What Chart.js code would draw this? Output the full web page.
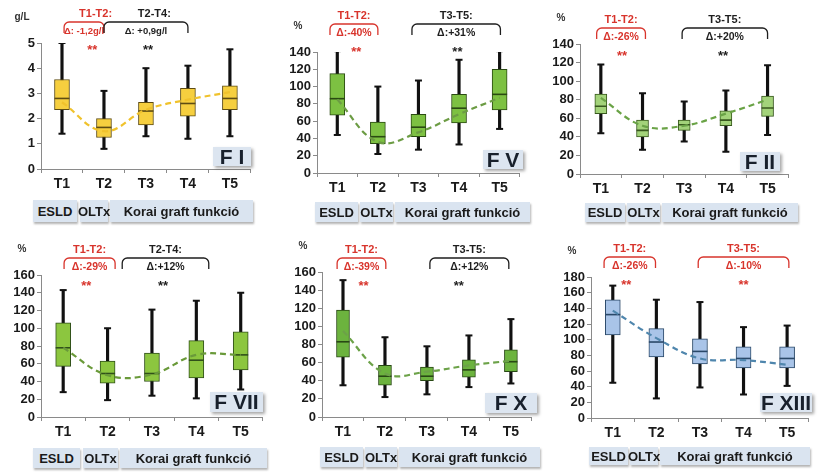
<!DOCTYPE html>
<html>
<head>
<meta charset="utf-8">
<script src="https://cdn.jsdelivr.net/npm/chart.js@4.4.1/dist/chart.umd.min.js"></script>
<style>
body{margin:0;background:#fff;width:818px;height:476px;position:relative;overflow:hidden;font-family:"Liberation Sans",Arial,sans-serif}
canvas{position:absolute}
.tag{position:absolute;background:#dae4f0;box-shadow:1px 2px 2px rgba(0,0,0,.3);font-weight:bold;font-size:13px;color:#1a1a1a;display:flex;align-items:center;justify-content:center;white-space:nowrap}
.fac{position:absolute;background:#dce5f0;box-shadow:2px 2px 3px rgba(0,0,0,.35);font-weight:bold;font-size:21px;color:#18202c;display:flex;align-items:center;justify-content:center;white-space:pre}
</style>
</head>
<body>
<script>
const times = ['T1', 'T2', 'T3', 'T4', 'T5'];

// each row: [min, q1, median, q3, max]
const fI_box = [[1.4, 2.35, 2.8, 3.55, 5.0], [0.8, 1.25, 1.65, 2.0, 3.1], [1.3, 1.75, 2.3, 2.65, 4.0], [1.2, 2.1, 2.6, 3.2, 4.1], [1.3, 2.35, 2.8, 3.3, 4.75]];
const fI_mean = [2.65, 1.5, 2.35, 2.75, 3.05];
const fV_box = [[44, 67, 86, 115, 141], [22, 34, 42, 59, 100], [27, 42, 53, 68, 107], [33, 58, 75, 91, 131], [51, 73, 91, 120, 141]];
const fV_mean = [85, 36, 47, 68, 87];
const fII_box = [[44, 65, 73, 86, 118], [26, 40, 47, 58, 87], [35, 47, 53, 58, 78], [24, 52, 58, 68, 90], [42, 62, 71, 84, 117]];
const fII_mean = [82, 52, 52, 65, 80];
const fVII_box = [[28, 57, 78, 106, 143], [19, 38, 49, 63, 100], [24, 40, 49, 72, 121], [21, 44, 64, 86, 131], [31, 53, 70, 96, 140]];
const fVII_mean = [78, 47, 48, 70, 70];
const fX_box = [[35, 66, 83, 118, 151], [22, 35, 45, 57, 88], [25, 40, 45, 55, 78], [33, 44, 52, 63, 90], [37, 50, 61, 74, 108]];
const fX_mean = [95, 48, 50, 57, 62];
const fXIII_box = [[45, 106, 132, 151, 169], [25, 78, 97, 114, 151], [39, 69, 85, 101, 148], [30, 64, 76, 91, 116], [41, 64, 76, 91, 118]];
const fXIII_mean = [137, 102, 76, 74, 68];

const yMax = [5, 140, 140, 160, 160, 180];
const yStep = [1, 20, 20, 20, 20, 20];

const RED = '#d8342c', BLK = '#1e1e1e';

const panels = [
    { name: 'F I', unit: 'g/L', box: fI_box, mean: fI_mean, fill: '#f6cf3f', edge: '#5e4c12', line: '#f0c22c', bw: 15,
      ax: 41, right: 258, top: 43, bottom: 169, pTop: 0, bTop: 22,
      brackets: [
          { from: 0.05, to: 1.0, color: RED, title: 'T1-T2:', tx: 0.8, delta: 'Δ: -1,2g/l', fs: 9.5, star: 0.72 },
          { from: 1.0, to: 3.0, color: BLK, title: 'T2-T4:', tx: 2.2, delta: 'Δ: +0,9g/l', fs: 9.5, star: 2.05 }
      ],
      tags: [[33, 77], [80, 108], [110, 253]], tagY: [200, 222], fac: [213, 147, 38, 19] },
    { name: 'F V', unit: '%', box: fV_box, mean: fV_mean, fill: '#7dc142', edge: '#2a4a12', line: '#6c9c44', bw: 15,
      ax: 317, right: 527, top: 52, bottom: 173, pTop: 0, bTop: 24,
      brackets: [
          { from: -0.18, to: 1.0, color: RED, title: 'T1-T2:', delta: 'Δ:-40%', star: 0.47 },
          { from: 1.84, to: 4.02, color: BLK, title: 'T3-T5:', delta: 'Δ:+31%', star: 2.96 }
      ],
      tags: [[315, 358], [360, 393], [395, 530]], tagY: [202, 222], fac: [483, 150, 40, 19] },
    { name: 'F II', unit: '%', box: fII_box, mean: fII_mean, fill: '#a3d37a', edge: '#38581e', line: '#6aa346', bw: 12,
      ax: 580, right: 794, top: 44, bottom: 174, pTop: 0, bTop: 28,
      brackets: [
          { from: -0.1, to: 1.07, color: RED, title: 'T1-T2:', delta: 'Δ:-26%', star: 0.51 },
          { from: 1.95, to: 4.0, color: BLK, title: 'T3-T5:', delta: 'Δ:+20%', star: 2.93 }
      ],
      tags: [[585, 625], [627, 660], [662, 798]], tagY: [203, 222], fac: [740, 152, 40, 19] },
    { name: 'F VII', unit: '%', box: fVII_box, mean: fVII_mean, fill: '#8cc63f', edge: '#30501a', line: '#6a9a3a', bw: 15,
      ax: 41, right: 270, top: 275, bottom: 417, pTop: 230, bTop: 28,
      brackets: [
          { from: 0.02, to: 1.17, color: RED, title: 'T1-T2:', delta: 'Δ:-29%', star: 0.52 },
          { from: 1.33, to: 3.28, color: BLK, title: 'T2-T4:', delta: 'Δ:+12%', star: 2.25 }
      ],
      tags: [[33, 80], [83, 118], [120, 267]], tagY: [448, 468], fac: [210, 392, 53, 20] },
    { name: 'F X', unit: '%', box: fX_box, mean: fX_mean, fill: '#6cb33e', edge: '#284814', line: '#6ca248', bw: 13,
      ax: 322, right: 538, top: 272, bottom: 417, pTop: 230, bTop: 28,
      brackets: [
          { from: -0.14, to: 1.02, color: RED, title: 'T1-T2:', delta: 'Δ:-39%', star: 0.49 },
          { from: 2.07, to: 3.95, color: BLK, title: 'T3-T5:', delta: 'Δ:+12%', star: 2.76 }
      ],
      tags: [[320, 363], [365, 397], [399, 540]], tagY: [447, 467], fac: [485, 393, 52, 20] },
    { name: 'F XIII', unit: '%', box: fXIII_box, mean: fXIII_mean, fill: '#a9c4e8', edge: '#2a4868', line: '#4f86ad', bw: 15,
      ax: 591, right: 816, top: 277, bottom: 418, pTop: 230, bTop: 27,
      brackets: [
          { from: -0.2, to: 0.98, color: RED, title: 'T1-T2:', delta: 'Δ:-26%', star: 0.31 },
          { from: 1.96, to: 4.04, color: RED, title: 'T3-T5:', delta: 'Δ:-10%', star: 3.0 }
      ],
      tags: [[589, 628], [630, 658], [660, 810]], tagY: [447, 465], fac: [760, 393, 52, 19] }
];

const FONT = '"Liberation Sans", Arial, sans-serif';
Chart.defaults.font.family = FONT;

// brackets, deltas, stars and unit label above each plot
const notes = {
    id: 'notes',
    afterDraw(chart, args, o) {
        const { ctx, chartArea } = chart;
        const x = chart.scales.x;
        ctx.save();
        ctx.textAlign = 'center';
        ctx.textBaseline = 'middle';
        ctx.fillStyle = '#333';
        ctx.font = 'bold 10px ' + FONT;
        ctx.fillText(o.unit, chartArea.left - 19, chartArea.top - 26);
        const t = o.top;
        o.brackets.forEach(b => {
            const x0 = x.getPixelForValue(b.from), x1 = x.getPixelForValue(b.to);
            const r = 5;
            ctx.strokeStyle = b.color;
            ctx.lineWidth = 1.3;
            ctx.beginPath();
            ctx.moveTo(x0, t + 11);
            ctx.arcTo(x0, t, x0 + r, t, r);
            ctx.arcTo(x1, t, x1, t + r, r);
            ctx.lineTo(x1, t + 11);
            ctx.stroke();
            const mid = (x0 + x1) / 2;
            ctx.fillStyle = b.color;
            ctx.font = 'bold 11px ' + FONT;
            ctx.fillText(b.title, b.tx != null ? x.getPixelForValue(b.tx) : mid, t - 8);
            ctx.font = 'bold ' + (b.fs || 10.5) + 'px ' + FONT;
            ctx.fillText(b.delta, mid, t + 9);
            ctx.font = 'bold 13px ' + FONT;
            ctx.fillText('**', x.getPixelForValue(b.star), t + 28);
        });
        ctx.restore();
    }
};

function addTag(text, x0, x1, y0, y1) {
    const d = document.createElement('div');
    d.className = 'tag';
    d.textContent = text;
    Object.assign(d.style, { left: x0 + 'px', top: y0 + 'px', width: (x1 - x0) + 'px', height: (y1 - y0) + 'px' });
    document.body.appendChild(d);
}

panels.forEach((p, i) => {
    const cLeft = p.ax - 38;
    const cw = p.right - cLeft + 2;
    const ch = p.bottom - p.pTop + 24;
    const canvas = document.createElement('canvas');
    canvas.width = cw;
    canvas.height = ch;
    canvas.style.left = cLeft + 'px';
    canvas.style.top = p.pTop + 'px';
    document.body.appendChild(canvas);

    new Chart(canvas.getContext('2d'), {
        data: {
            labels: times,
            datasets: [
                {
                    type: 'line', data: p.mean, borderColor: p.line, borderDash: [6, 4], borderWidth: 2.2,
                    pointRadius: 0, tension: 0.4, order: 0
                },
                {
                    type: 'line', data: p.box.map(b => b[2]), showLine: false, pointStyle: 'line',
                    pointRadius: p.bw / 2, pointBorderColor: p.edge, pointBorderWidth: 1.6, order: 1
                },
                {
                    type: 'line', data: p.box.map(b => b[0]), showLine: false, pointStyle: 'line',
                    pointRadius: 3.5, pointBorderColor: '#111', pointBorderWidth: 2, order: 1
                },
                {
                    type: 'line', data: p.box.map(b => b[4]), showLine: false, pointStyle: 'line',
                    pointRadius: 3.5, pointBorderColor: '#111', pointBorderWidth: 2, order: 1
                },
                {
                    type: 'bar', data: p.box.map(b => [b[1], b[3]]), backgroundColor: p.fill, borderColor: p.edge,
                    borderWidth: 1, borderSkipped: false, barThickness: p.bw, grouped: false, order: 2
                },
                {
                    type: 'bar', data: p.box.map(b => [b[0], b[4]]), backgroundColor: '#111',
                    barThickness: 2.5, grouped: false, order: 3
                }
            ]
        },
        options: {
            responsive: false,
            animation: false,
            layout: { padding: { left: 8, right: 2, top: p.top - p.pTop, bottom: 0 } },
            plugins: {
                legend: { display: false },
                tooltip: { enabled: false },
                notes: { unit: p.unit, top: p.bTop, brackets: p.brackets }
            },
            scales: {
                x: {
                    afterFit(s) { s.height = 24; },
                    border: { display: true, color: '#8a8a8a', width: 1 },
                    grid: { offset: true, drawOnChartArea: false, drawTicks: true, tickLength: 4, color: '#8a8a8a' },
                    ticks: { color: '#1a1a1a', font: { size: 14, weight: 'bold' }, padding: 3 }
                },
                y: {
                    min: 0, max: yMax[i],
                    afterFit(s) { s.width = 30; },
                    border: { display: true, color: '#8a8a8a', width: 1 },
                    grid: { drawOnChartArea: false, drawTicks: true, tickLength: 4, color: '#8a8a8a' },
                    ticks: { stepSize: yStep[i], autoSkip: false, color: '#1a1a1a', font: { size: 13, weight: 'bold' }, padding: 2 }
                }
            }
        },
        plugins: [notes]
    });

    const names = ['ESLD', 'OLTx', 'Korai graft funkció'];
    p.tags.forEach((t, k) => addTag(names[k], t[0], t[1], p.tagY[0], p.tagY[1]));

    const f = document.createElement('div');
    f.className = 'fac';
    f.textContent = p.name;
    Object.assign(f.style, { left: p.fac[0] + 'px', top: p.fac[1] + 'px', width: p.fac[2] + 'px', height: p.fac[3] + 'px' });
    document.body.appendChild(f);
});
</script>
</body>
</html>
